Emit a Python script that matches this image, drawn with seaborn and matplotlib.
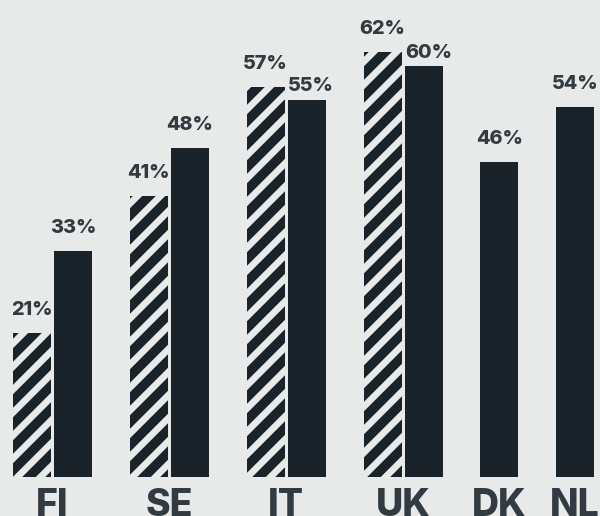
import matplotlib
matplotlib.use("Agg")
import matplotlib.pyplot as plt
import numpy as np
import pandas as pd
import seaborn as sns

# Share per country: striped bars = earlier survey, solid bars = latest survey
countries = ["FI", "SE", "IT", "UK", "DK", "NL"]
earlier_share = [21, 41, 57, 62, None, None]
latest_share = [33, 48, 55, 60, 46, 54]

BG = "#e8eaea"
INK = "#1a2329"
TEXT = "#323b41"
DPI = 138

sns.set_theme(style="white")
plt.rcParams["font.family"] = ["Inter", "DejaVu Sans"]
plt.rcParams["hatch.linewidth"] = 5.0

# Layout: bars inside a country sit one unit apart, countries are further apart
GROUP_GAP = 1.85
rows, centers = [], []
pos = -GROUP_GAP
for c, a, b in zip(countries, earlier_share, latest_share):
    pos += GROUP_GAP
    first = pos
    if a is not None:
        rows.append({"pos": pos, "value": a, "series": "earlier", "country": c})
        pos += 1
    rows.append({"pos": pos, "value": b, "series": "latest", "country": c})
    centers.append((first + pos) / 2)
df = pd.DataFrame(rows)

fig = plt.figure(figsize=(600 / DPI, 516 / DPI), dpi=DPI, facecolor=BG)
ax = fig.add_axes([0, 39 / 516, 1, 477 / 516])
ax.set_facecolor(BG)

sns.barplot(
    data=df, x="pos", y="value", hue="series", hue_order=["earlier", "latest"],
    palette={"earlier": BG, "latest": INK}, native_scale=True, dodge=False,
    width=38 / 41, errorbar=None, legend=False, linewidth=0, saturation=1,
    edgecolor=INK, ax=ax,
)

# Striped fill for the earlier survey bars
for patch in ax.patches:
    if np.allclose(patch.get_facecolor()[:3], matplotlib.colors.to_rgb(BG)):
        patch.set_hatch("//")
        patch.set_edgecolor(INK)
        patch.set_linewidth(0)

ax.set_xlim(-32 / 41, -32 / 41 + 600 / 41)
ax.set_ylim(0, 477 / 6.85)

# Value labels above each bar (two are nudged to avoid crowding neighbours)
nudges = {("IT", "latest"): (4, -9), ("UK", "latest"): (5, -10)}
for r in rows:
    dx, dy = nudges.get((r["country"], r["series"]), (0, 0))
    ax.annotate(
        f"{r['value']}%", (r["pos"], r["value"]),
        xytext=(dx * 72 / DPI, (18 + dy) * 72 / DPI), textcoords="offset points",
        ha="center", va="baseline", fontsize=10.3, fontweight="heavy", color=TEXT,
    )

ax.set_xticks(centers)
ax.set_xticklabels(countries, fontsize=19.5, fontweight="heavy", color=TEXT)
ax.tick_params(axis="x", length=0, pad=6.0)
ax.set_yticks([])
ax.set_xlabel("")
ax.set_ylabel("")
for s in ax.spines.values():
    s.set_visible(False)

fig.savefig("out.png", dpi=DPI, facecolor=BG)
